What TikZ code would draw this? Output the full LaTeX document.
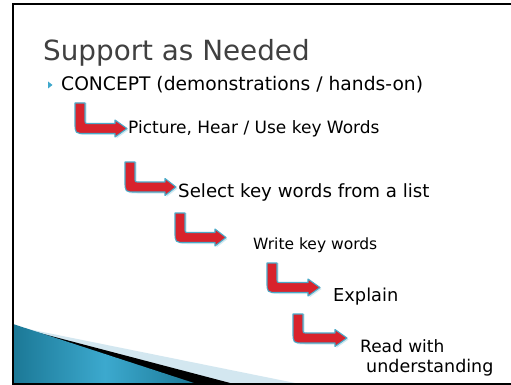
\documentclass[tikz,border=0pt]{standalone}
\usepackage{fontspec}
\setmainfont{DejaVu Sans}
\definecolor{arrowred}{HTML}{D8232C}
\definecolor{arrowcyan}{HTML}{4AAAC8}
\definecolor{bullcyan}{HTML}{3FA8CC}
\definecolor{titlegray}{HTML}{404040}
\definecolor{wedgelight}{HTML}{D3E7F0}
\definecolor{wedgedark}{HTML}{1B7896}
\definecolor{wedgemid}{HTML}{3CA9CE}
\newcommand{\bentarrow}[5]{%
  % #1 left x, #2 top y, #3 centre y of horizontal bar, #4 head base x, #5 tip x
  \fill[arrowglow] ({#1+1.5},{#2}) -- ({#1+1.5},{#3+6.5-11}) .. controls ({#1+1.5},{#3+6.5}) .. ({#1+12.5},{#3+6.5})
    -- ({#4+1.5},{#3+6.5}) -- ({#4+1.5},{#3+10}) -- ({#5+1.5},{#3+1.5}) -- ({#4+1.5},{#3-7}) -- ({#4+1.5},{#3-3.5})
    -- ({#1+14.5},{#3-3.5}) .. controls ({#1+11.5},{#3-3.5}) .. ({#1+11.5},{#3-6.5}) -- ({#1+11.5},{#2}) -- cycle;
  \filldraw[arrowbody] (#1,#2) -- (#1,{#3+5-11}) .. controls (#1,{#3+5}) .. ({#1+11},{#3+5})
    -- (#4,{#3+5}) -- (#4,{#3+8.5}) -- (#5,#3) -- (#4,{#3-8.5}) -- (#4,{#3-5})
    -- ({#1+14},{#3-5}) .. controls ({#1+10},{#3-5}) .. ({#1+10},{#3-9}) -- ({#1+10},#2) -- cycle;
}
\begin{document}
\begin{tikzpicture}[x=1pt,y=-1pt,
  arrowbody/.style={fill=arrowred, draw=arrowcyan, line width=1.1pt, line join=round},
  arrowglow/.style={fill=arrowcyan, opacity=0.25},
  titletext/.style={anchor=base west, inner sep=0pt, text=titlegray, font=\fontsize{27.8}{33}\selectfont},
  bodytext/.style={anchor=base west, inner sep=0pt, text=black, font=\fontsize{17}{20}\selectfont}]
\useasboundingbox (0,0) rectangle (511,385);
\clip (0,0) rectangle (511,385);
\fill[white] (0,0) rectangle (511,385);
% bottom-left decoration
\fill[wedgelight] (13,326) -- (300,384) -- (13,384) -- cycle;
\fill[black] (13,326) -- (234,384) -- (13,384) -- cycle;
\shade[left color=wedgedark, right color=wedgedark, middle color=wedgemid] (13,324) -- (197,384) -- (13,384) -- cycle;
% frame
\draw[line width=2pt] (520,4.5) -- (12.5,4.5) -- (12.5,383.5) -- (520,383.5);
% title and bullet
\node[titletext] (title) at (43,61) {Support as Needed};
\fill[bullcyan] (48,81.5) -- (52.5,85) -- (48,88.5) -- cycle;
\node[bodytext, font=\fontsize{18.7}{22}\selectfont] (concept) at (61,91) {CONCEPT (demonstrations / hands-on)};
% steps
\node[bodytext] (picture) at (128,133) {Picture, Hear / Use key Words};
\node[bodytext, font=\fontsize{18.2}{22}\selectfont] (select) at (178,197) {Select key words from a list};
\node[bodytext, font=\fontsize{15.5}{19}\selectfont] (write) at (253,249) {Write key words};
\node[bodytext, font=\fontsize{17.8}{21}\selectfont] (explain) at (333,301) {Explain};
\node[bodytext, font=\fontsize{17}{20}\selectfont] (read) at (360,352) {Read with};
\node[bodytext, font=\fontsize{17.5}{20}\selectfont] (underst) at (366,372) {understanding};
% arrows
\bentarrow{75}{103}{128.5}{115}{127}
\bentarrow{125}{162}{187}{165}{176}
\bentarrow{175}{213}{237.5}{215}{226}
\bentarrow{267}{263}{287.5}{308}{320}
\bentarrow{293}{314}{338}{335}{347}
\end{tikzpicture}
\end{document}
